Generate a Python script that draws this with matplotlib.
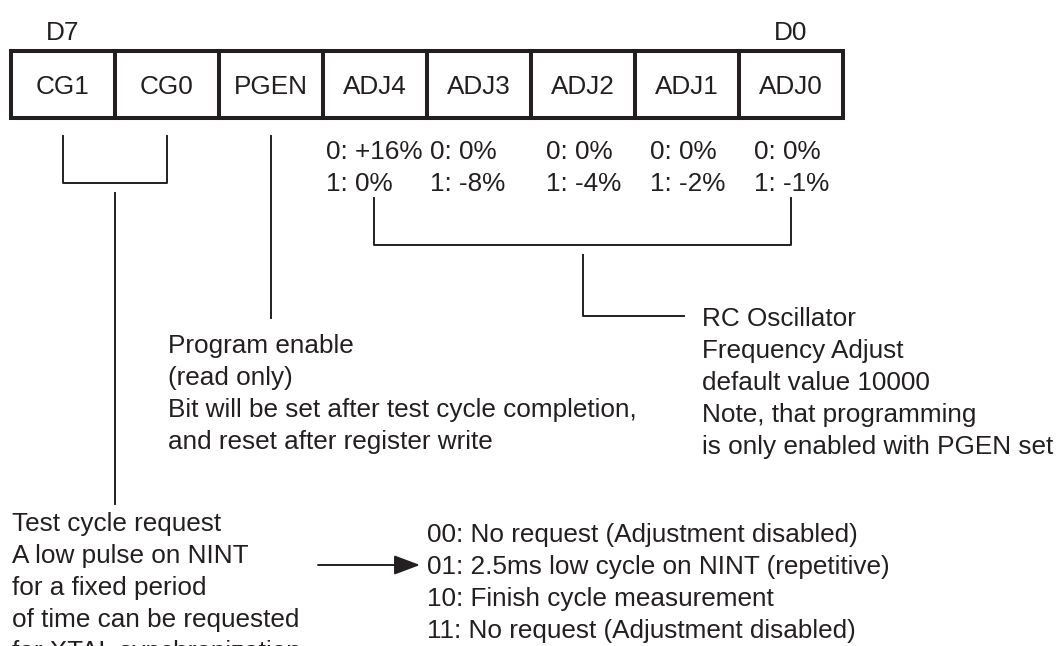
import numpy as np
import matplotlib.pyplot as plt

plt.rcParams['font.family'] = ['Liberation Sans', 'DejaVu Sans']

# register bits, D7 .. D0
bits = ['CG1', 'CG0', 'PGEN', 'ADJ4', 'ADJ3', 'ADJ2', 'ADJ1', 'ADJ0']
adj_zero = ['0: +16%', '0: 0%', '0: 0%', '0: 0%', '0: 0%']
adj_one = ['1: 0%', '1: -8%', '1: -4%', '1: -2%', '1: -1%']

pgen_note = ['Program enable',
             '(read only)',
             'Bit will be set after test cycle completion,',
             'and reset after register write']
rc_note = ['RC Oscillator',
           'Frequency Adjust',
           'default value 10000',
           'Note, that programming',
           'is only enabled with PGEN set']
cg_note = ['Test cycle request',
           'A low pulse on NINT',
           'for a fixed period',
           'of time can be requested',
           'for XTAL synchronization']
cg_codes = ['00: No request (Adjustment disabled)',
            '01: 2.5ms low cycle on NINT (repetitive)',
            '10: Finish cycle measurement',
            '11: No request (Adjustment disabled)']

ink = '#231f20'
fs = 18.8
step = 32  # line pitch of the text blocks, px

fig = plt.figure(figsize=(10.63, 6.46), dpi=100)
ax = fig.add_axes([0, 0, 1, 1])
ax.set_xlim(0, 1063)
ax.set_ylim(646, 0)
ax.axis('off')

# register box
edges = np.linspace(10.5, 842.5, len(bits) + 1)
top, bot = 51, 118
ax.plot([edges[0], edges[-1], edges[-1], edges[0], edges[0]],
        [top, top, bot, bot, top], color=ink, lw=2.9, solid_joinstyle='miter')
for x in edges[1:-1]:
    ax.plot([x, x], [top, bot], color=ink, lw=2.9)
centers = (edges[:-1] + edges[1:]) / 2
for cx, name in zip(centers, bits):
    ax.text(cx, 94, name, ha='center', va='baseline', fontsize=fs, color=ink)
ax.text(centers[0], 40, 'D7', ha='center', va='baseline', fontsize=fs, color=ink)
ax.text(centers[-1], 40, 'D0', ha='center', va='baseline', fontsize=fs, color=ink)

# ADJ value table
col_x = [326, 430, 546, 650, 754]
for x, a, b in zip(col_x, adj_zero, adj_one):
    ax.text(x, 159, a, ha='left', va='baseline', fontsize=fs, color=ink)
    ax.text(x, 191, b, ha='left', va='baseline', fontsize=fs, color=ink)

lw = 1.4
# CG bracket
ax.plot([63, 63, 167, 167], [136, 183, 183, 136], color=ink, lw=lw)
ax.plot([115, 115], [193, 504], color=ink, lw=lw)
# PGEN line
ax.plot([271, 271], [136, 318], color=ink, lw=lw)
# ADJ bracket
ax.plot([374, 374, 791, 791], [198, 245, 245, 198], color=ink, lw=lw)
ax.plot([583, 583, 684], [255, 316, 316], color=ink, lw=lw)


def block(x, y0, lines):
    for i, s in enumerate(lines):
        ax.text(x, y0 + i * step, s, ha='left', va='baseline', fontsize=fs, color=ink)


block(168, 353, pgen_note)
block(702, 326, rc_note)
block(12, 531, cg_note)
block(427, 542, cg_codes)

ax.annotate('', xy=(420, 565), xytext=(318, 565),
            arrowprops=dict(arrowstyle='-|>,head_length=0.8,head_width=0.3',
                            mutation_scale=20, lw=lw, color=ink,
                            shrinkA=0, shrinkB=0))

fig.savefig('out.png', dpi=100, facecolor='white')
